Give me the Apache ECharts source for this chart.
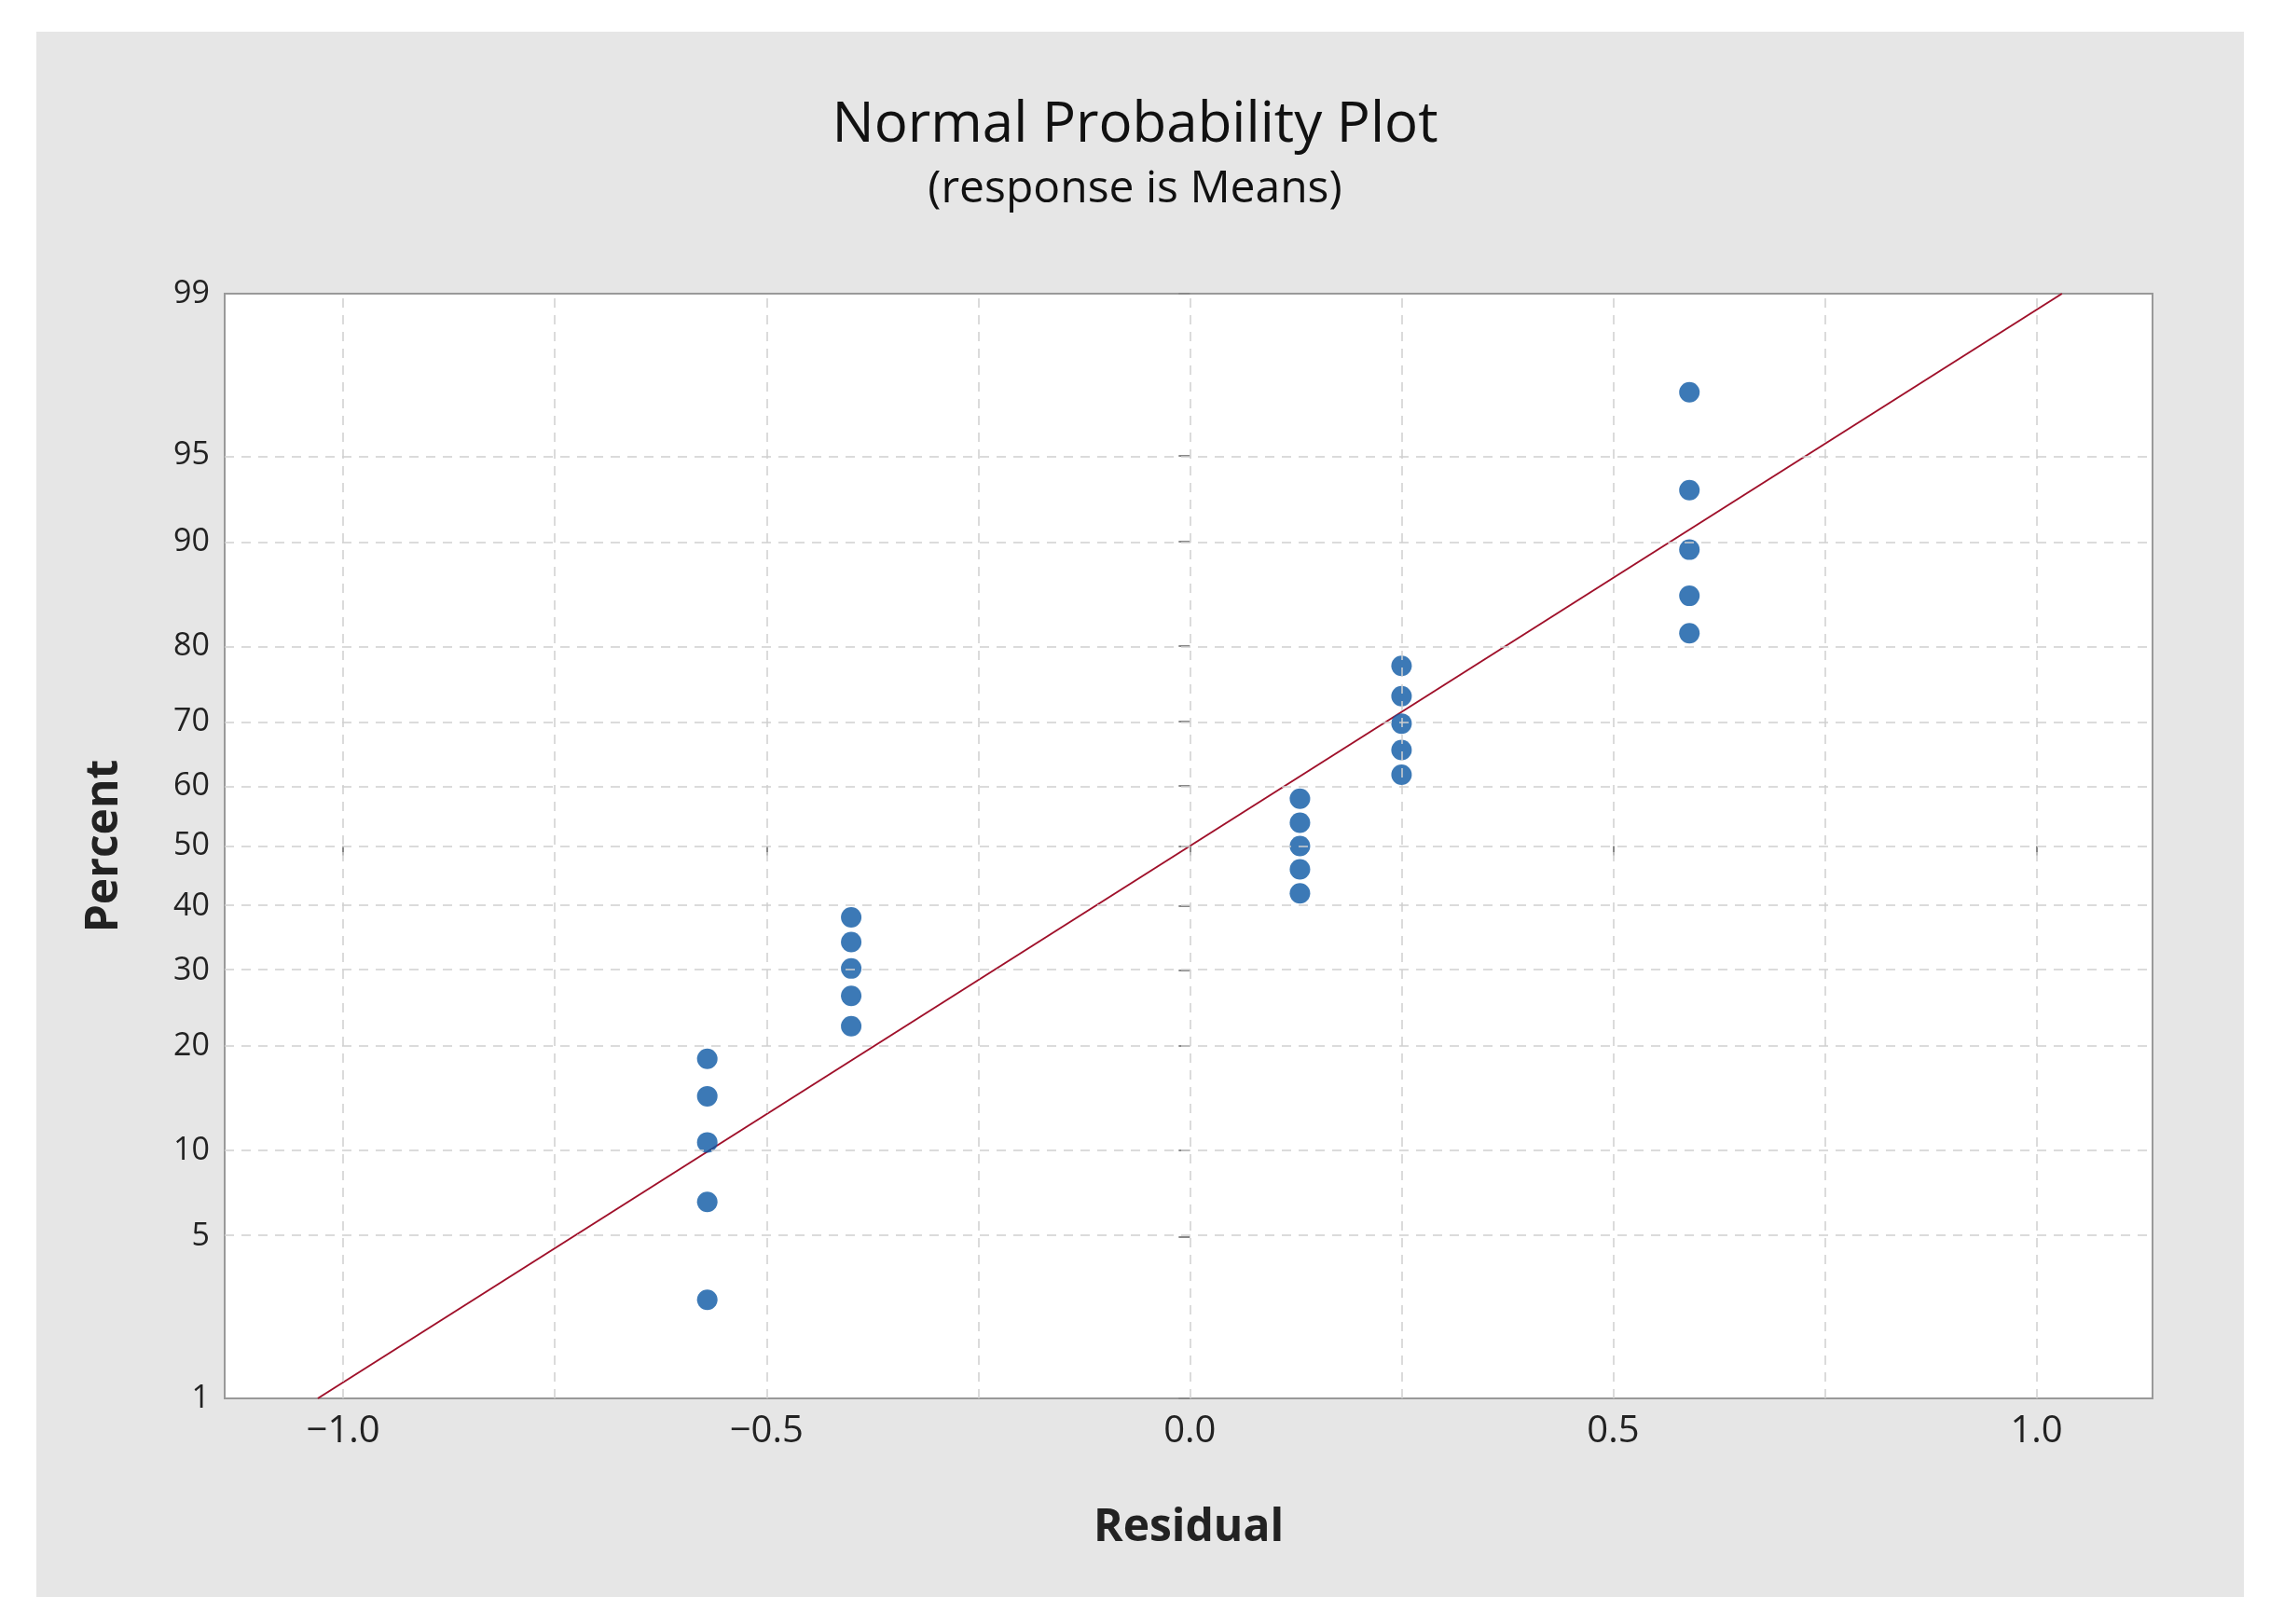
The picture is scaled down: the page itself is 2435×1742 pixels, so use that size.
<!DOCTYPE html>
<html><head><meta charset="utf-8">
<script src="https://cdn.jsdelivr.net/npm/echarts@6/dist/echarts.min.js"></script>
<style>html,body{margin:0;padding:0;background:#fff}#c{width:2435px;height:1742px}</style>
</head><body><div id="c"></div>
<script>
// residual x-values and percent positions
const residuals = [-0.57,-0.57,-0.57,-0.57,-0.57,-0.40,-0.40,-0.40,-0.40,-0.40,0.13,0.13,0.13,0.13,0.13,0.25,0.25,0.25,0.25,0.25,0.59,0.59,0.59,0.59,0.59];
const percents = [2.8,6.7,10.6,14.6,18.5,22.4,26.4,30.3,34.3,38.2,42.1,46.1,50.0,53.9,57.9,61.8,65.7,69.7,73.6,77.6,81.5,85.4,89.4,93.3,97.2];
const yTicks = [1,5,10,20,30,40,50,60,70,80,90,95,99];
const xTicks = [-1.0,-0.5,0.0,0.5,1.0];
const xGrid = [-1.0,-0.75,-0.5,-0.25,0.0,0.25,0.5,0.75,1.0];
const fitLine = [[-1.03,1],[1.03,99]];

function invnorm(p){ // Acklam approximation
  const a=[-39.69683028665376,220.9460984245205,-275.9285104469687,138.3577518672690,-30.66479806614716,2.506628277459239];
  const b=[-54.47609879822406,161.5858368580409,-155.6989798598866,66.80131188771972,-13.28068155288572];
  const c=[-0.007784894002430293,-0.3223964580411365,-2.400758277161838,-2.549732539343734,4.374664141464968,2.938163982698783];
  const d=[0.007784695709041462,0.3224671290700398,2.445134137142996,3.754408661907416];
  const pl=0.02425; let q,r;
  if(p<pl){q=Math.sqrt(-2*Math.log(p));return (((((c[0]*q+c[1])*q+c[2])*q+c[3])*q+c[4])*q+c[5])/((((d[0]*q+d[1])*q+d[2])*q+d[3])*q+1);}
  if(p>1-pl){q=Math.sqrt(-2*Math.log(1-p));return -(((((c[0]*q+c[1])*q+c[2])*q+c[3])*q+c[4])*q+c[5])/((((d[0]*q+d[1])*q+d[2])*q+d[3])*q+1);}
  q=p-0.5;r=q*q;return (((((a[0]*r+a[1])*r+a[2])*r+a[3])*r+a[4])*r+a[5])*q/(((((b[0]*r+b[1])*r+b[2])*r+b[3])*r+b[4])*r+1);
}
const z = p => invnorm(p/100);
const yZ = yTicks.map(z);
const font = '"Open Sans","Noto Sans",sans-serif';
const chart = echarts.init(document.getElementById('c'));
const gridStyle = {color:'#d0d0d0',type:[10,8],width:1.5};
chart.setOption({
  animation:false,
  backgroundColor:'#fff',
  graphic:[{type:'rect',z:-10,shape:{x:39,y:34,width:2368,height:1679},style:{fill:'#e6e6e6'}}],
  title:{text:'Normal Probability Plot',subtext:'(response is Means)',left:'center',top:100,itemGap:14,
    textStyle:{fontFamily:font,fontSize:60,fontWeight:'normal',color:'#111'},
    subtextStyle:{fontFamily:font,fontSize:48,color:'#111'}},
  grid:{left:241,right:126,top:315,bottom:242,show:true,backgroundColor:'#fff',borderColor:'#999',borderWidth:2},
  xAxis:{type:'value',min:-1.14,max:1.137,name:'Residual',nameLocation:'middle',nameGap:115,
    nameTextStyle:{fontFamily:font,fontSize:48,fontWeight:'bold',color:'#222'},
    axisLine:{show:false},splitLine:{show:false},
    axisTick:{show:true,customValues:xTicks,length:10,lineStyle:{color:'#888',width:2}},
    axisLabel:{customValues:xTicks,fontFamily:font,fontSize:40,color:'#222',margin:16,
      formatter:v=>(v<0?'\u2212':'')+Math.abs(v).toFixed(1)}},
  yAxis:{type:'value',min:z(1),max:z(99),name:'Percent',nameLocation:'middle',nameGap:105,
    nameTextStyle:{fontFamily:font,fontSize:48,fontWeight:'bold',color:'#222'},
    axisLine:{show:false},splitLine:{show:false},
    axisTick:{show:true,customValues:yZ,length:12,lineStyle:{color:'#888',width:2}},
    axisLabel:{customValues:yZ,fontFamily:font,fontSize:34,color:'#222',margin:16,
      formatter:v=>{let best=0;yZ.forEach((t,i)=>{if(Math.abs(t-v)<Math.abs(yZ[best]-v))best=i;});return String(yTicks[best]);}}},
  series:[
    {type:'line',data:[],silent:true,markLine:{symbol:'none',silent:true,label:{show:false},lineStyle:gridStyle,
      data:[...xGrid.map(x=>({xAxis:x})),...yZ.slice(1,-1).map(y=>({yAxis:y}))]}},
    {type:'line',data:fitLine.map(p=>[p[0],z(p[1])]),symbol:'none',lineStyle:{color:'#a0102a',width:2},z:3},
    {type:'scatter',data:residuals.map((x,i)=>[x,z(percents[i])]),symbolSize:22,itemStyle:{color:'#0b57a4'},z:4}
  ]
});
</script></body></html>
